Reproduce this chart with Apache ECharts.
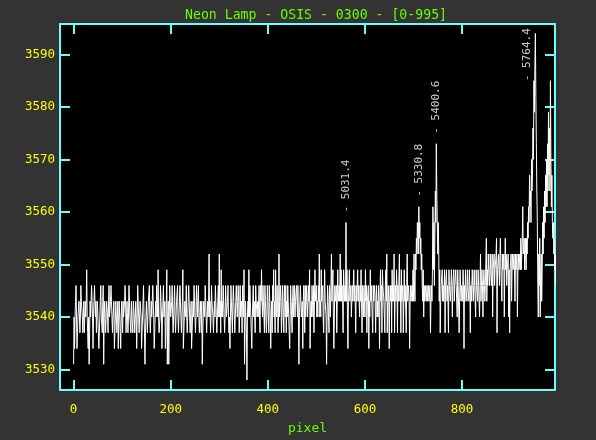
<!DOCTYPE html>
<html><head><meta charset="utf-8">
<script src="https://cdn.jsdelivr.net/npm/echarts@6/dist/echarts.min.js"></script>
<style>html,body{margin:0;padding:0;background:#333333;}#c{width:596px;height:440px;}</style>
</head><body><div id="c"></div>
<script>
const titleText = 'Neon Lamp - OSIS - 0300 - [0-995]';
const xName = 'pixel';
const xTicks = [0, 200, 400, 600, 800];
const yTicks = [3530, 3540, 3550, 3560, 3570, 3580, 3590];

const counts0 = [
3531,3540,3534,3540,3543,3546,3540,3534,3537,3540,
3540,3543,3543,3537,3540,3546,3543,3543,3540,3537,
3540,3543,3537,3540,3543,3540,3543,3549,3540,3537,
3534,3540,3531,3537,3543,3540,3540,3546,3543,3540,
3534,3540,3543,3546,3543,3540,3543,3537,3540,3543,
3540,3540,3534,3537,3540,3543,3546,3540,3540,3537,
3543,3546,3531,3540,3543,3540,3537,3540,3543,3543,
3540,3537,3543,3546,3540,3540,3543,3546,3543,3540,
3537,3540,3540,3543,3534,3537,3540,3543,3540,3537,
3540,3543,3534,3540,3543,3540,3537,3534,3540,3543];
const counts1 = [
3540,3537,3543,3540,3540,3543,3546,3543,3537,3540,
3543,3540,3537,3540,3546,3543,3540,3540,3537,3543,
3540,3540,3537,3543,3543,3540,3537,3540,3543,3540,
3534,3540,3546,3543,3540,3537,3540,3543,3543,3540,
3534,3537,3540,3543,3546,3540,3537,3531,3537,3540,
3543,3540,3537,3540,3543,3543,3546,3540,3537,3540,
3543,3540,3540,3546,3543,3540,3534,3537,3540,3543,
3540,3546,3543,3540,3549,3540,3537,3537,3540,3546,
3543,3540,3534,3540,3543,3546,3540,3540,3543,3534,
3537,3543,3549,3531,3540,3543,3531,3540,3546,3543];
const counts2 = [
3540,3540,3543,3546,3540,3537,3540,3543,3546,3540,
3537,3540,3543,3543,3546,3540,3537,3540,3540,3546,
3543,3540,3537,3540,3543,3549,3534,3537,3540,3543,
3543,3540,3546,3540,3537,3540,3543,3546,3543,3540,
3537,3540,3543,3534,3537,3540,3543,3540,3546,3543,
3540,3537,3540,3546,3543,3540,3543,3546,3540,3537,
3540,3543,3540,3537,3543,3531,3537,3540,3543,3543,
3540,3546,3543,3540,3537,3540,3543,3540,3543,3552,
3540,3543,3537,3540,3546,3543,3543,3540,3537,3540,
3543,3540,3546,3543,3540,3537,3540,3543,3546,3540];
const counts3 = [
3552,3540,3543,3537,3549,3540,3543,3540,3546,3543,
3540,3537,3540,3546,3543,3540,3540,3543,3546,3540,
3537,3540,3534,3540,3546,3543,3540,3537,3543,3546,
3543,3540,3537,3540,3543,3546,3543,3540,3540,3546,
3543,3537,3540,3546,3540,3540,3543,3537,3546,3543,
3540,3549,3531,3537,3543,3540,3537,3528,3540,3543,
3540,3549,3540,3546,3543,3540,3537,3534,3540,3543,
3546,3540,3543,3540,3537,3546,3543,3543,3540,3543,
3540,3543,3546,3540,3537,3546,3543,3549,3543,3540,
3546,3543,3540,3537,3546,3543,3540,3537,3540,3546];
const counts4 = [
3543,3540,3537,3546,3543,3540,3534,3540,3543,3537,
3546,3543,3549,3540,3543,3537,3549,3543,3540,3546,
3543,3537,3540,3552,3540,3543,3546,3543,3537,3540,
3546,3543,3543,3537,3546,3543,3540,3546,3537,3543,
3540,3546,3543,3540,3540,3534,3540,3546,3543,3543,
3537,3543,3546,3540,3543,3546,3540,3543,3543,3546,
3543,3540,3546,3540,3531,3540,3543,3546,3543,3540,
3540,3543,3534,3543,3546,3543,3537,3546,3540,3543,
3546,3543,3540,3543,3546,3543,3549,3534,3540,3543,
3540,3546,3543,3540,3546,3537,3543,3549,3543,3543];
const counts5 = [
3546,3540,3543,3540,3546,3543,3552,3540,3543,3540,
3549,3543,3543,3546,3540,3537,3543,3549,3543,3543,
3540,3531,3540,3546,3543,3543,3537,3546,3543,3540,
3546,3552,3543,3543,3549,3540,3534,3540,3546,3543,
3543,3546,3537,3543,3549,3543,3543,3546,3543,3552,
3543,3549,3543,3546,3543,3537,3549,3546,3543,3546,
3543,3558,3543,3549,3540,3534,3543,3546,3549,3543,
3543,3546,3540,3543,3546,3543,3543,3549,3543,3546,
3543,3537,3546,3543,3543,3549,3543,3546,3543,3540,
3546,3543,3549,3543,3537,3546,3543,3540,3546,3543];
const counts6 = [
3540,3549,3543,3546,3537,3543,3543,3546,3534,3543,
3540,3549,3543,3546,3543,3543,3537,3546,3543,3543,
3546,3543,3537,3543,3546,3540,3543,3540,3546,3543,
3534,3543,3549,3543,3546,3537,3549,3546,3546,3543,
3543,3537,3546,3549,3543,3552,3537,3543,3546,3543,
3534,3543,3546,3543,3546,3537,3549,3543,3546,3543,
3552,3537,3543,3546,3543,3549,3546,3537,3546,3543,
3543,3552,3543,3546,3537,3549,3543,3543,3546,3537,
3543,3549,3543,3546,3546,3537,3546,3552,3543,3543,
3546,3543,3534,3543,3546,3543,3543,3546,3543,3549];
const counts7 = [
3543,3552,3546,3543,3552,3549,3555,3552,3558,3555,
3552,3561,3555,3558,3552,3555,3549,3552,3546,3543,
3549,3540,3546,3543,3543,3546,3543,3543,3546,3543,
3543,3546,3543,3543,3546,3537,3543,3546,3543,3549,
3561,3549,3558,3546,3555,3564,3558,3573,3564,3558,
3552,3558,3552,3543,3549,3537,3543,3546,3546,3549,
3543,3546,3543,3543,3549,3537,3546,3546,3549,3543,
3546,3543,3537,3549,3546,3546,3543,3546,3549,3546,
3540,3546,3546,3549,3543,3546,3546,3549,3546,3546,
3540,3549,3546,3546,3537,3543,3549,3546,3543,3546];
const counts8 = [
3546,3543,3549,3546,3534,3546,3543,3549,3546,3546,
3543,3549,3546,3546,3543,3549,3546,3537,3546,3543,
3546,3549,3546,3543,3546,3549,3546,3546,3540,3549,
3546,3546,3543,3549,3546,3546,3540,3546,3552,3543,
3546,3549,3546,3540,3546,3549,3546,3543,3546,3546,
3555,3543,3549,3546,3552,3549,3549,3546,3552,3549,
3549,3546,3552,3540,3549,3549,3552,3546,3549,3549,
3552,3555,3537,3549,3549,3552,3549,3546,3552,3555,
3549,3549,3543,3552,3549,3549,3552,3540,3549,3555,
3549,3552,3546,3549,3549,3552,3540,3549,3537,3549];
const counts9 = [
3549,3552,3543,3549,3552,3549,3549,3552,3549,3543,
3552,3549,3549,3552,3540,3549,3552,3549,3549,3552,
3549,3555,3549,3552,3555,3561,3552,3552,3555,3549,
3552,3555,3549,3555,3552,3558,3555,3561,3558,3567,
3561,3564,3558,3570,3564,3567,3576,3570,3585,3579,
3588,3594,3582,3573,3564,3558,3546,3540,3552,3546,
3555,3540,3549,3552,3543,3549,3558,3552,3561,3555,
3564,3558,3567,3561,3570,3561,3573,3564,3579,3567,
3576,3564,3585,3570,3561,3567,3558,3555,3558,3552,
3555,3549,3552,3546,3549,3552];

const lineLabels = ['5031.4', '5330.8', '5400.6', '5764.4'];
const linePixel = [561, 711, 747, 934];
const lineLevel = [3558, 3561, 3573, 3583];

const counts = [].concat(counts0, counts1, counts2, counts3, counts4, counts5, counts6, counts7, counts8, counts9);
const pts = counts.map((v, i) => [i, v]);
const labelPts = lineLabels.map((t, i) => [linePixel[i], lineLevel[i], t]);

const MONO = 'DejaVu Sans Mono';
const CYAN = '#66ffff';
const GREEN = '#66ff00';
const YELLOW = '#ffff00';

const axisLineCfg = { show: true, onZero: false, lineStyle: { color: CYAN, width: 2 } };
function tickCfg(vals) {
  return { show: true, inside: true, length: 10, customValues: vals, lineStyle: { color: CYAN, width: 2 } };
}

const chart = echarts.init(document.getElementById('c'), null, { renderer: 'canvas' });
chart.setOption({
  animation: false,
  backgroundColor: '#333333',
  title: {
    text: titleText, left: 180, top: 4,
    textStyle: { color: GREEN, fontFamily: MONO, fontSize: 13.2, fontWeight: 'normal' }
  },
  grid: {
    left: 60, right: 41, top: 24, bottom: 50,
    show: true, backgroundColor: '#000000', borderWidth: 0,
    containLabel: false, outerBoundsMode: 'none'
  },
  xAxis: [{
    type: 'value', position: 'bottom', min: -28, max: 991.4,
    axisLine: axisLineCfg, axisTick: tickCfg(xTicks),
    axisLabel: { customValues: xTicks, formatter: v => String(v), color: YELLOW, fontFamily: MONO, fontSize: 12.5, margin: 13 },
    splitLine: { show: false },
    name: xName, nameLocation: 'middle', nameGap: 32,
    nameTextStyle: { color: GREEN, fontFamily: MONO, fontSize: 13 }
  }, {
    type: 'value', position: 'top', min: -28, max: 991.4,
    axisLine: axisLineCfg, axisTick: tickCfg(xTicks),
    axisLabel: { show: false }, splitLine: { show: false }
  }],
  yAxis: [{
    type: 'value', position: 'left', min: 3526.1, max: 3595.8,
    axisLine: axisLineCfg, axisTick: tickCfg(yTicks),
    axisLabel: { customValues: yTicks, formatter: v => String(v), color: YELLOW, fontFamily: MONO, fontSize: 12.5, margin: 5, padding: [4, 0, 0, 0] },
    splitLine: { show: false }
  }, {
    type: 'value', position: 'right', min: 3526.1, max: 3595.8,
    axisLine: axisLineCfg, axisTick: tickCfg(yTicks),
    axisLabel: { show: false }, splitLine: { show: false }
  }],
  series: [{
    type: 'line', data: pts, xAxisIndex: 0, yAxisIndex: 0,
    symbol: 'none', showSymbol: false, silent: true,
    lineStyle: { color: '#ffffff', width: 1 }, clip: true
  }, {
    type: 'scatter', data: labelPts, xAxisIndex: 0, yAxisIndex: 0,
    symbolSize: 0, silent: true,
    label: {
      show: true, formatter: p => '- ' + p.data[2], rotate: 90,
      position: 'top', distance: 10, align: 'left', verticalAlign: 'middle',
      color: '#ffffff', fontFamily: MONO, fontSize: 11
    }
  }]
});
</script>
</body></html>
